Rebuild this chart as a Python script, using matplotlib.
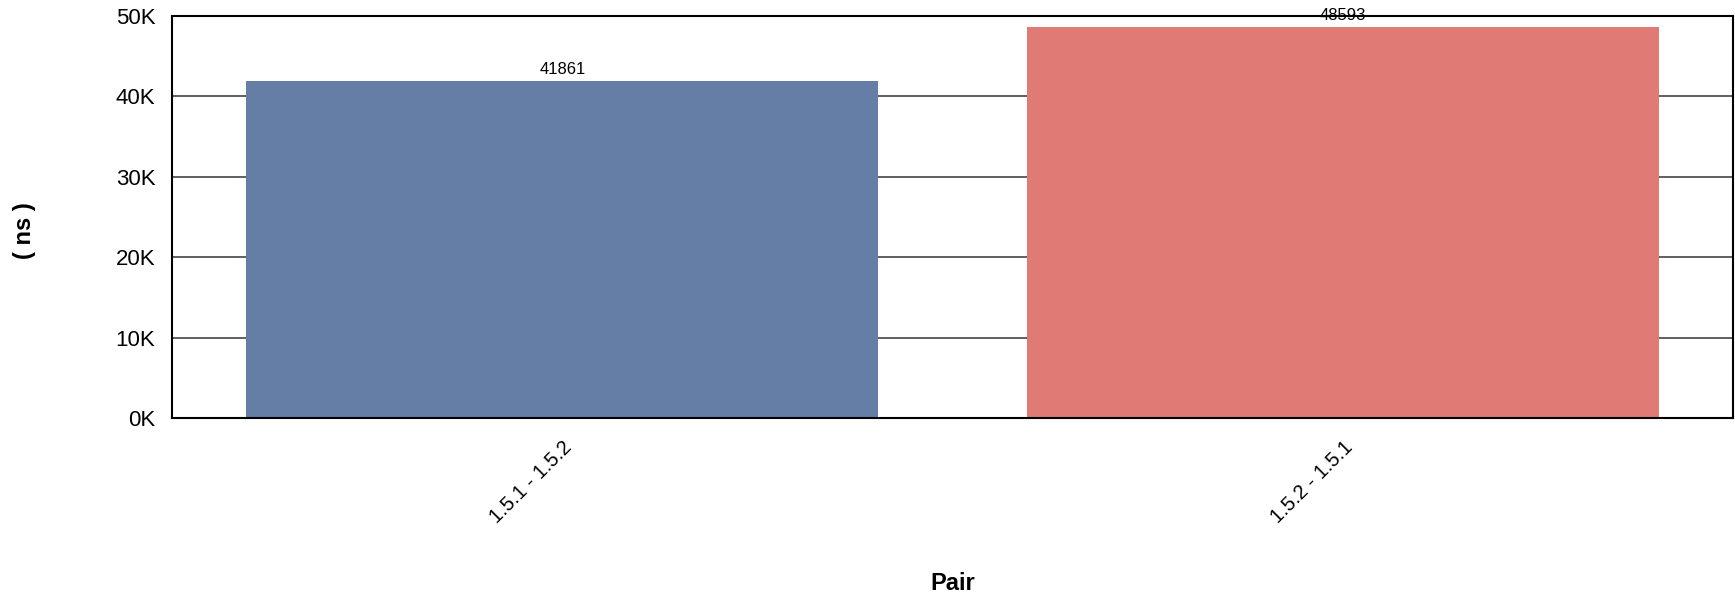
import matplotlib
matplotlib.use("Agg")
import matplotlib.pyplot as plt
from matplotlib.ticker import FuncFormatter

plt.rcParams['font.family'] = ['Liberation Sans', 'DejaVu Sans']

# data
pairs = ['1.5.1 - 1.5.2', '1.5.2 - 1.5.1']
times_ns = [41861, 48593]
bar_colors = ['#657ea6', '#e07a74']
y_ticks = [0, 10000, 20000, 30000, 40000, 50000]

W, H = 1735, 600
fig = plt.figure(figsize=(W / 100, H / 100), dpi=100)
ax = fig.add_axes([172 / W, 1 - 418 / H, (1733 - 172) / W, (418 - 16) / H])

x = list(range(len(pairs)))
bars = ax.bar(x, times_ns, width=0.81, color=bar_colors, zorder=2)
ax.bar_label(bars, labels=[str(v) for v in times_ns], padding=3, fontsize=12)

ax.set_xlim(-0.5, len(pairs) - 0.5)
ax.set_ylim(0, 50000)
ax.set_yticks(y_ticks)
ax.yaxis.set_major_formatter(FuncFormatter(lambda v, p: f"{int(v / 1000)}K"))
ax.set_xticks(x)
ax.set_xticklabels(pairs, rotation=45, ha='right', rotation_mode='anchor', fontsize=14.5)
for lbl in ax.get_xticklabels():
    lbl.set_x(lbl.get_position()[0])
ax.tick_params(axis='x', length=0, pad=14)
ax.tick_params(axis='y', length=0, pad=12, labelsize=16)

ax.yaxis.grid(True, color='#444444', linewidth=1.2, zorder=0)
ax.set_axisbelow(True)
for s in ax.spines.values():
    s.set_color('black')
    s.set_linewidth(1.5)

fig.text(24 / W, 1 - 231 / H, '( ns )', rotation=90, ha='center', va='center',
         fontsize=17, fontweight='bold')
fig.text(953 / W, 1 - 583 / H, 'Pair', ha='center', va='center',
         fontsize=17, fontweight='bold')

fig.savefig('out.png', dpi=100)
